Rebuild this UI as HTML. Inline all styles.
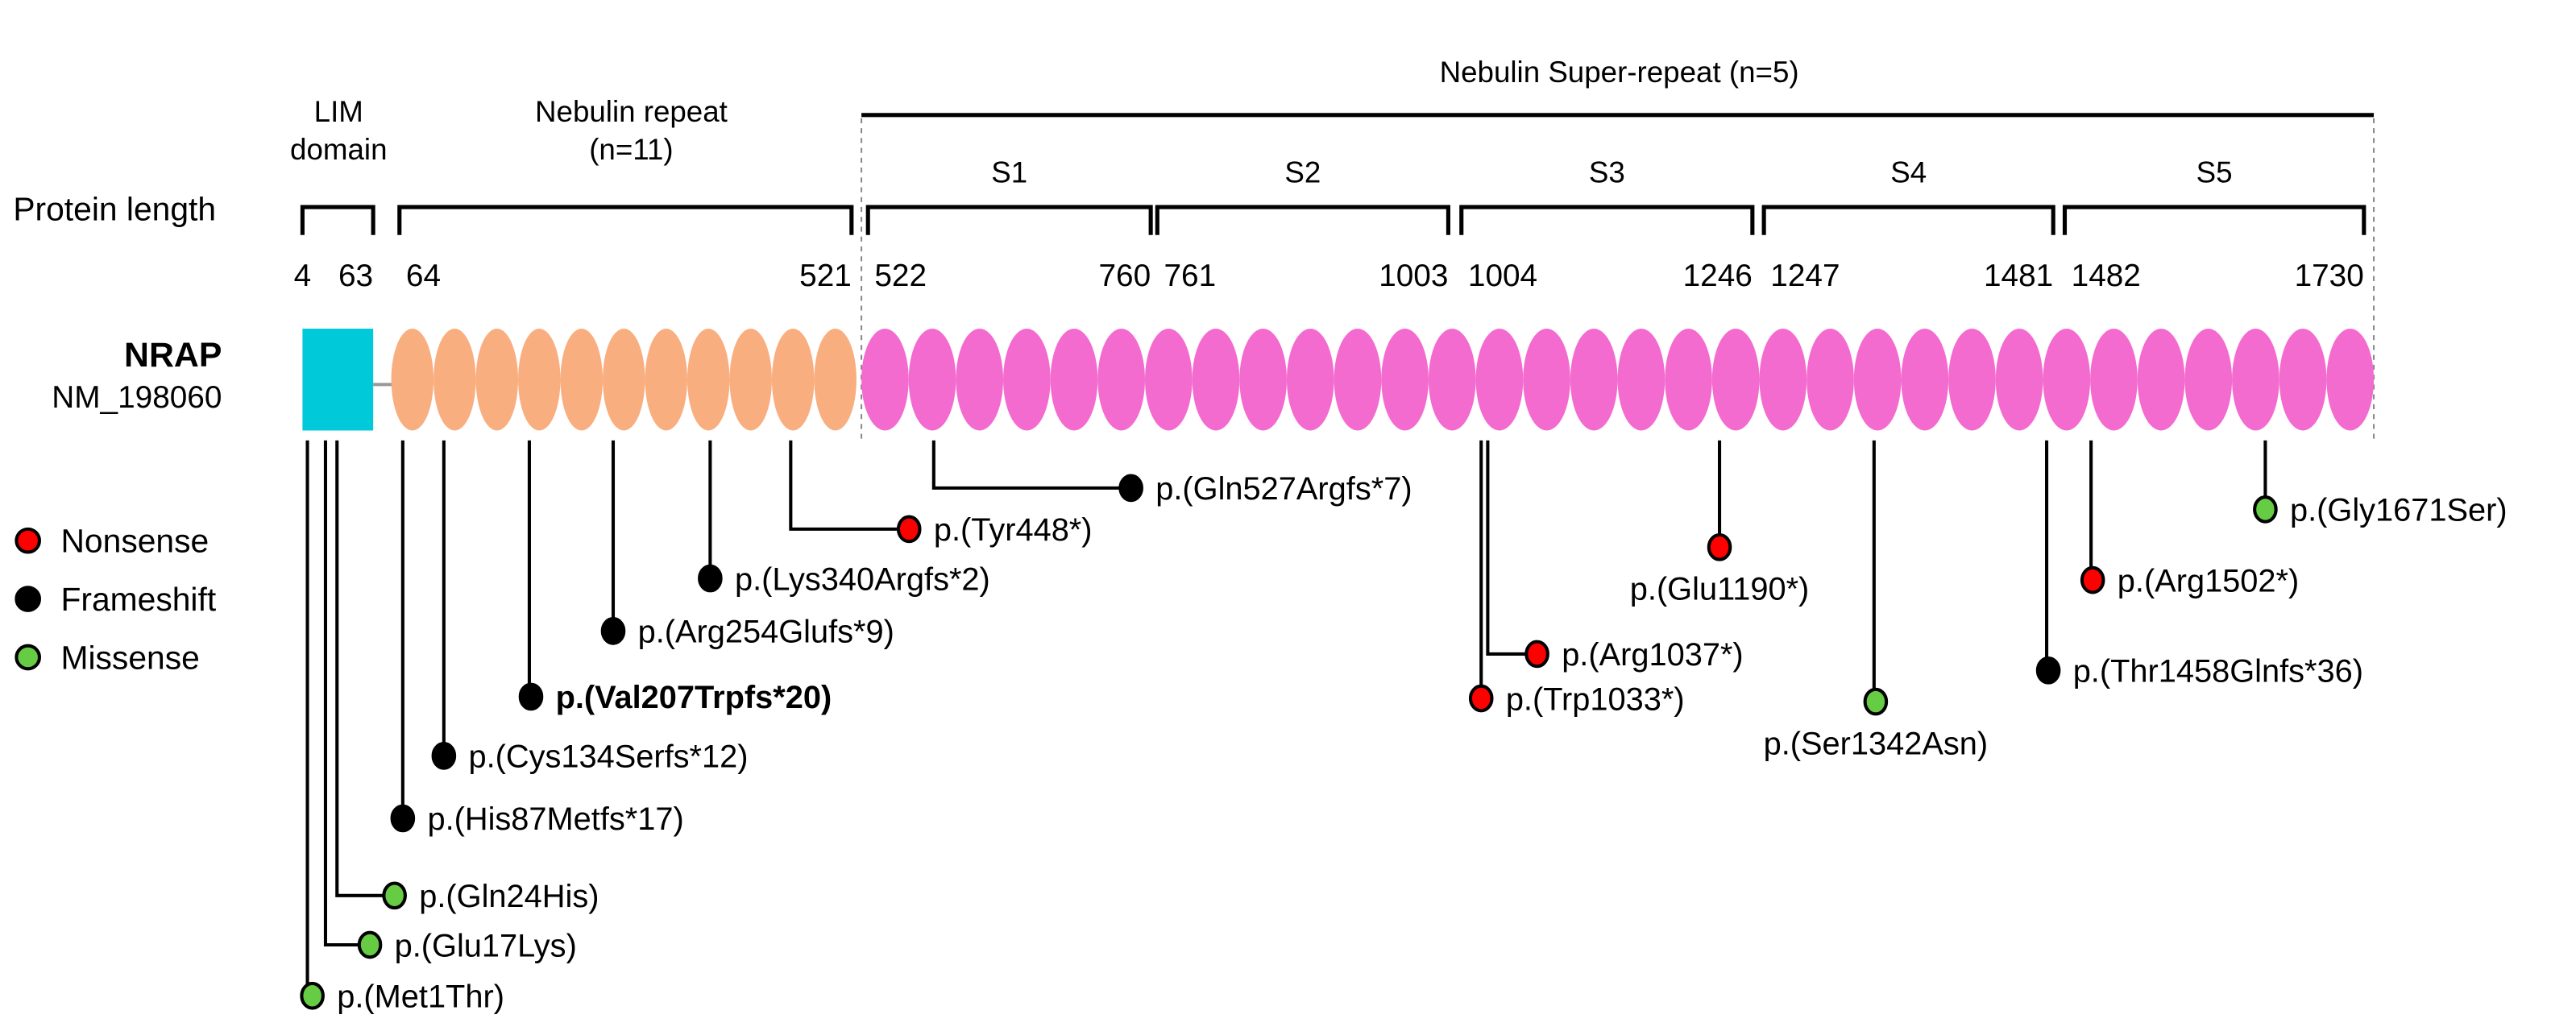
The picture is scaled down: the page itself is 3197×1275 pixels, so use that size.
<!DOCTYPE html>
<html><head><meta charset="utf-8">
<style>
html,body{margin:0;padding:0;background:#fff;}
svg{display:block;}
text{font-family:"Liberation Sans Narrow","Liberation Sans",sans-serif;fill:#000;}
</style></head>
<body>
<svg id="fig" width="3197" height="1275" viewBox="0 0 1567 625" preserveAspectRatio="none" xmlns="http://www.w3.org/2000/svg">
<g id="static">
  <text x="985" y="50" font-size="18" text-anchor="middle">Nebulin Super-repeat  (n=5)</text>
  <line x1="524" y1="70" x2="1444" y2="70" stroke="#000" stroke-width="2.5"/>
  <line x1="524" y1="72" x2="524" y2="270" stroke="#888" stroke-width="1" stroke-dasharray="3,3"/>
  <line x1="1444" y1="72" x2="1444" y2="270" stroke="#888" stroke-width="1" stroke-dasharray="3,3"/>
  <text x="206" y="74" font-size="18" text-anchor="middle">LIM</text>
  <text x="206" y="97" font-size="18" text-anchor="middle">domain</text>
  <text x="384" y="74" font-size="18" text-anchor="middle">Nebulin repeat</text>
  <text x="384" y="97" font-size="18" text-anchor="middle">(n=11)</text>
  <text x="8" y="134" font-size="20">Protein length</text>
  <text x="135" y="223" font-size="21" font-weight="bold" text-anchor="end">NRAP</text>
  <text x="135" y="248" font-size="19" text-anchor="end">NM_198060</text>
  <rect x="184" y="200" width="43" height="62" fill="#00c9d9"/>
  <line x1="227" y1="234" x2="240" y2="234" stroke="#999" stroke-width="2"/>
</g>
<g id="brackets"></g>
<g id="repeats"></g>
<g id="legend"></g>
<g id="mutations"></g>
</svg>
<script>
const NS = "http://www.w3.org/2000/svg";
// Domain brackets: [x-start, x-end] pixel spans of labelled domains, with start/end residues
const bracketStart = [184, 243, 528, 704, 889, 1073, 1256];
const bracketEnd   = [227, 518, 700, 881, 1066, 1249, 1438];
const residueStart = ["4", "64", "522", "761", "1004", "1247", "1482"];
const residueEnd   = ["63", "521", "760", "1003", "1246", "1481", "1730"];
const superLabels  = ["", "", "S1", "S2", "S3", "S4", "S5"];
// repeat counts
const nebulinCount = 11;
const superCount = 32;
// Mutations
const mutLabels = ["p.(Met1Thr)","p.(Glu17Lys)","p.(Gln24His)","p.(His87Metfs*17)","p.(Cys134Serfs*12)","p.(Val207Trpfs*20)","p.(Arg254Glufs*9)","p.(Lys340Argfs*2)","p.(Tyr448*)","p.(Gln527Argfs*7)","p.(Trp1033*)","p.(Arg1037*)","p.(Glu1190*)","p.(Ser1342Asn)","p.(Thr1458Glnfs*36)","p.(Arg1502*)","p.(Gly1671Ser)"];
const mutTypes  = ["mis","mis","mis","fs","fs","fs","fs","fs","non","fs","non","non","non","mis","fs","non","mis"];
const mutStemX  = [187,198,205,245,270,322,373,432,481,568,901,905,1046,1140,1245,1272,1378];
const mutDotX   = [190,225,240,245,270,323,373,432,553,688,901,935,1046,1141,1246,1273,1378];
const mutDotY   = [606,575,545,498,460,424,384,352,322,297,425,398,333,427,408,353,310];
const labelBelow = [0,0,0,0,0,0,0,0,0,0,0,0,1,1,0,0,0];
const boldLabel  = [0,0,0,0,0,1,0,0,0,0,0,0,0,0,0,0,0];
const colors = {non:"#ff0000", fs:"#000000", mis:"#66cc44"};
const legendNames = ["Nonsense","Frameshift","Missense"];
const legendTypes = ["non","fs","mis"];

function mk(tag, attrs, parent){const e=document.createElementNS(NS,tag);for(const k in attrs)e.setAttribute(k,attrs[k]);parent.appendChild(e);return e;}

const gb=document.getElementById("brackets");
for(let i=0;i<bracketStart.length;i++){
  const x1=bracketStart[i], x2=bracketEnd[i];
  const p=mk("path",{d:`M${x1},143 V126 H${x2} V143`,fill:"none",stroke:"#000","stroke-width":2.5},gb);
  
  
  const t1=mk("text",{x:x1+(i===0?0:4),y:174,"font-size":19,"text-anchor":i===0?"middle":"start"},gb);
  t1.textContent=residueStart[i];
  
  
  const t2=mk("text",{x:x2,y:174,"font-size":19,"text-anchor":"end"},gb);
  t2.textContent=residueEnd[i];
  
  
  if(superLabels[i]){
    const s=mk("text",{x:(x1+x2)/2,y:111,"font-size":18,"text-anchor":"middle"},gb);
    s.textContent=superLabels[i];
    
    
  }
}
const gr=document.getElementById("repeats");
const nbW=(521-238)/nebulinCount;
for(let i=0;i<nebulinCount;i++){
  const e=mk("ellipse",{cx:238+nbW*(i+0.5),cy:231,rx:nbW/2,ry:31,fill:"#f9ae80"},gr);
  
  
}
const spW=(1444-524)/superCount;
for(let i=0;i<superCount;i++){
  const e=mk("ellipse",{cx:524+spW*(i+0.5),cy:231,rx:spW/2,ry:31,fill:"#f46bd0"},gr);
  
  
}
const gl=document.getElementById("legend");
for(let i=0;i<legendNames.length;i++){
  const y=329+i*35.5;
  const c=mk("circle",{cx:17,cy:y,r:7,fill:colors[legendTypes[i]],stroke:"#000","stroke-width":2},gl);
  
  
  const t=mk("text",{x:37,y:y+7,"font-size":20},gl);
  t.textContent=legendNames[i];
  
  
}
const gm=document.getElementById("mutations");
for(let i=0;i<mutLabels.length;i++){
  const sx=mutStemX[i], dx=mutDotX[i], dy=mutDotY[i];
  const d = sx===dx ? `M${sx},268 V${dy}` : `M${sx},268 V${dy} H${dx}`;
  const p=mk("path",{d:d,fill:"none",stroke:"#000","stroke-width":2},gm);
  
  
  const c=mk("ellipse",{cx:dx,cy:dy,rx:6.5,ry:7.5,fill:colors[mutTypes[i]],stroke:"#000","stroke-width":2},gm);
  
  
  let t;
  if(labelBelow[i]){
    t=mk("text",{x:dx,y:dy+32,"font-size":19.5,"text-anchor":"middle"},gm);
  } else {
    t=mk("text",{x:dx+15,y:dy+7,"font-size":19.5},gm);
  }
  if(boldLabel[i]) t.setAttribute("font-weight","bold");
  t.textContent=mutLabels[i];
  
  
}
</script>
</body></html>
